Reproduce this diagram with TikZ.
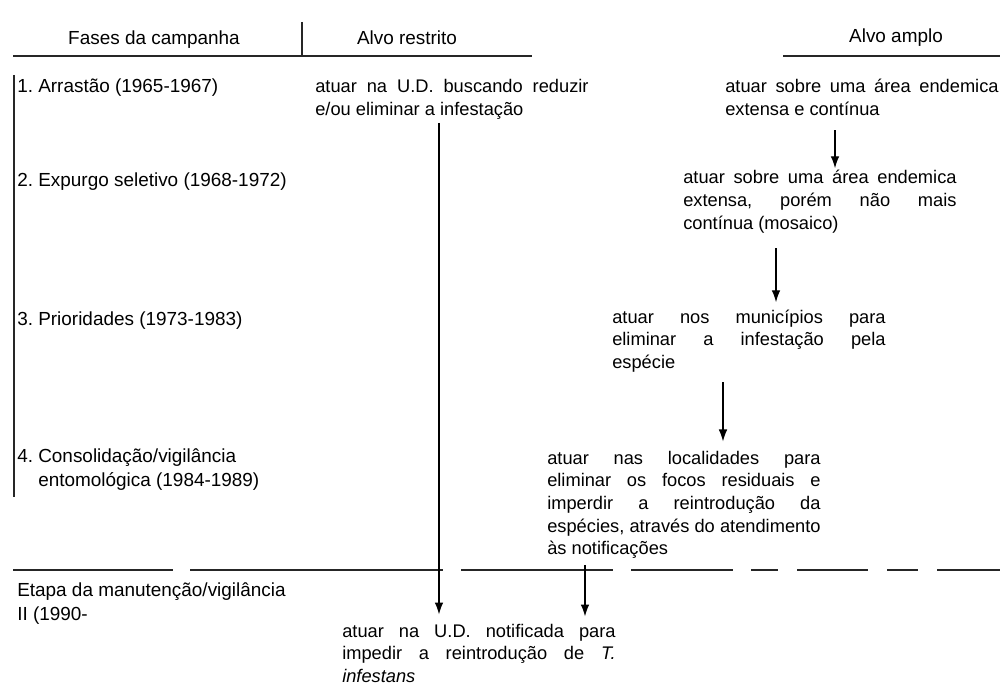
\documentclass[tikz,border=0pt]{standalone}
\usepackage{fontspec}
\setmainfont{Liberation Sans}
\usetikzlibrary{positioning, calc, arrows.meta}
\frenchspacing

\begin{document}
\begin{tikzpicture}[
    x = 0.75pt, y = -0.75pt,
    font = \fontsize{13.7}{17}\selectfont,
    rule/.style = {draw = black!85, line width = 1pt},
    flow/.style = {draw = black, line width = 1pt, -{Latex[length=9pt, width=6.5pt]}},
    head/.style = {anchor = base, inner sep = 0, font = \fontsize{14.2}{17.3}\selectfont},
    phase/.style = {anchor = base west, inner sep = 0, align = left, font = \fontsize{14.2}{17.3}\selectfont},
    goal/.style = {anchor = base west, inner sep = 0, text width = 205pt, align = justify}
  ]
  \useasboundingbox (0,0) rectangle (1000,688);
  % column heads
  \node (fases) [head] at (154,45) {Fases da campanha};
  \node (restrito) [head] at (407,45) {Alvo restrito};
  \node (amplo) [head] at (896,43) {Alvo amplo};
  \draw [rule] (13,56) -- (532,56);
  \draw [rule] (302,22) -- (302,56);
  \draw [rule] (783,56) -- (1000,56);
  % phases
  \draw [rule] (14,75) -- (14,497);
  \node (p1) [phase] at (17,93) {1. Arrastão (1965-1967)};
  \node (p2) [phase] at (17,187) {2. Expurgo seletivo (1968-1972)};
  \node (p3) [phase] at (17,325) {3. Prioridades (1973-1983)};
  \node (p4) [phase] at (17,486) {4. Consolidação/vigilância\\\phantom{4. }entomológica (1984-1989)};
  \node (etapa) [phase] at (17,620) {Etapa da manutenção/vigilância\\II (1990-};
  % restricted target
  \node (r1) [goal] at (315,93) {atuar na U.D. buscando reduzir\linebreak e/ou eliminar a infestação};
  \node (r2) [goal] at (342,637) {atuar na U.D. notificada para\linebreak impedir a reintrodução de \textit{T.}\linebreak \textit{infestans}};
  % wide target
  \node (a1) [goal] at (725,93) {atuar sobre uma área endemica\linebreak extensa e contínua};
  \node (a2) [goal] at (683,184) {atuar sobre uma área endemica\linebreak extensa, porém não mais\linebreak contínua (mosaico)};
  \node (a3) [goal] at (612,323) {atuar nos municípios para\linebreak eliminar a infestação pela\linebreak espécie};
  \node (a4) [goal] at (547,464) {atuar nas localidades para\linebreak eliminar os focos residuais e\linebreak imperdir a reintrodução da\linebreak espécies, através do atendimento\linebreak às notificações};
  % maintenance stage
  \foreach \a/\b in {13/173, 190/443, 461/613, 631/733, 751/778, 797/868, 887/918, 937/1000}
    \draw [rule] (\a,570) -- (\b,570);
  % arrows
  \draw [flow] ($(r1.south west)+(124,3)$) -- ($(r2.north west)+(97,-9)$);
  \draw [flow] ($(a1.south west)+(110,14)$) -- ($(a2.north west)+(152,-2)$);
  \draw [flow] ($(a2.south west)+(93,15)$) -- ($(a3.north west)+(164,-7)$);
  \draw [flow] ($(a3.south west)+(111,10)$) -- ($(a4.north west)+(176,-9)$);
  \draw [flow] ($(a4.south west)+(38,6)$) -- ($(r2.north west)+(243,-7)$);
\end{tikzpicture}
\end{document}
